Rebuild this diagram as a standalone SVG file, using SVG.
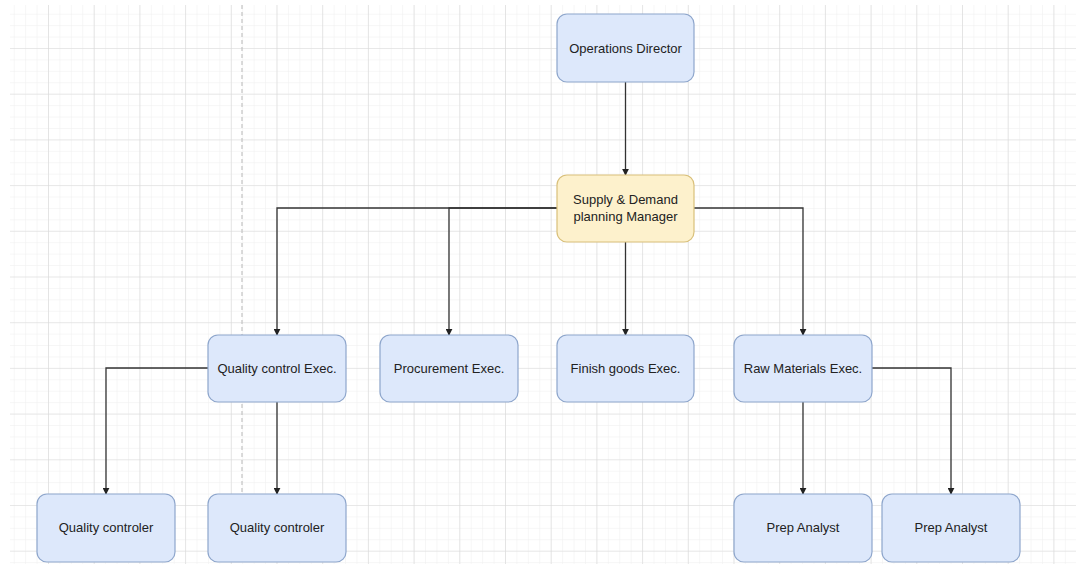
<svg xmlns="http://www.w3.org/2000/svg" width="1076" height="564" viewBox="0 0 1076 564">
  <style>
    .node rect { stroke-width: 1.2; }
    .blue rect { fill: #dde8fb; stroke: #8ea6cc; }
    .yellow rect { fill: #fdf1cc; stroke: #d9c07a; }
    .node text { font-family: "Liberation Sans", Arial, sans-serif; font-size: 13px; fill: #222; text-anchor: middle; }
    .edge { fill: none; stroke: #333; stroke-width: 1.3; marker-end: url(#arrow); }
  </style>
  <defs>
    <pattern id="minor" patternUnits="userSpaceOnUse" x="2.3" y="2.3" width="11.425" height="11.425">
      <path d="M0 0V11.425M0 0H11.425" stroke="#eeeeee" stroke-width="1" fill="none"/>
    </pattern>
    <pattern id="major" patternUnits="userSpaceOnUse" x="2.3" y="2.3" width="45.7" height="45.7">
      <path d="M0 0V45.7M0 0H45.7" stroke="#d9d9d9" stroke-width="1.2" fill="none"/>
    </pattern>
    <marker id="arrow" viewBox="0 0 10 10" refX="9" refY="5" markerWidth="7" markerHeight="7" markerUnits="userSpaceOnUse" orient="auto">
      <path d="M0 0L10 5L0 10z" fill="#222"/>
    </marker>
  </defs>
  <rect width="1076" height="564" fill="#ffffff"/>
  <rect x="10" y="5" width="1066" height="559" fill="url(#minor)"/>
  <rect x="10" y="5" width="1066" height="559" fill="url(#major)"/>
  <line x1="242" y1="5" x2="242" y2="564" stroke="#c4c4c4" stroke-width="1.2" stroke-dasharray="4 3"/>

  <g id="connectors">
    <path class="edge" d="M625.5 82V175"/>
    <path class="edge" d="M557 208H277V335"/>
    <path class="edge" d="M557 208H449V335"/>
    <path class="edge" d="M625.5 242V335"/>
    <path class="edge" d="M694 208H803V335"/>
    <path class="edge" d="M208 368H106V494"/>
    <path class="edge" d="M277 402V494"/>
    <path class="edge" d="M803 402V494"/>
    <path class="edge" d="M872 368H951V494"/>
  </g>

  <g id="operations-director" class="node blue">
    <rect x="557" y="14" width="137" height="68" rx="10"/>
    <text x="625.5" y="52.5">Operations Director</text>
  </g>
  <g id="supply-demand-manager" class="node yellow">
    <rect x="557" y="175" width="137" height="67" rx="10"/>
    <text x="625.5" y="204">Supply &amp; Demand</text>
    <text x="625.5" y="221">planning Manager</text>
  </g>
  <g id="quality-control-exec" class="node blue">
    <rect x="208" y="335" width="138" height="67" rx="10"/>
    <text x="277" y="373">Quality control Exec.</text>
  </g>
  <g id="procurement-exec" class="node blue">
    <rect x="380" y="335" width="138" height="67" rx="10"/>
    <text x="449" y="373">Procurement Exec.</text>
  </g>
  <g id="finish-goods-exec" class="node blue">
    <rect x="557" y="335" width="137" height="67" rx="10"/>
    <text x="625.5" y="373">Finish goods Exec.</text>
  </g>
  <g id="raw-materials-exec" class="node blue">
    <rect x="734" y="335" width="138" height="67" rx="10"/>
    <text x="803" y="373">Raw Materials Exec.</text>
  </g>
  <g id="quality-controler-1" class="node blue">
    <rect x="37" y="494" width="138" height="68" rx="10"/>
    <text x="106" y="532">Quality controler</text>
  </g>
  <g id="quality-controler-2" class="node blue">
    <rect x="208" y="494" width="138" height="68" rx="10"/>
    <text x="277" y="532">Quality controler</text>
  </g>
  <g id="prep-analyst-1" class="node blue">
    <rect x="734" y="494" width="138" height="68" rx="10"/>
    <text x="803" y="532">Prep Analyst</text>
  </g>
  <g id="prep-analyst-2" class="node blue">
    <rect x="882" y="494" width="138" height="68" rx="10"/>
    <text x="951" y="532">Prep Analyst</text>
  </g>
</svg>
